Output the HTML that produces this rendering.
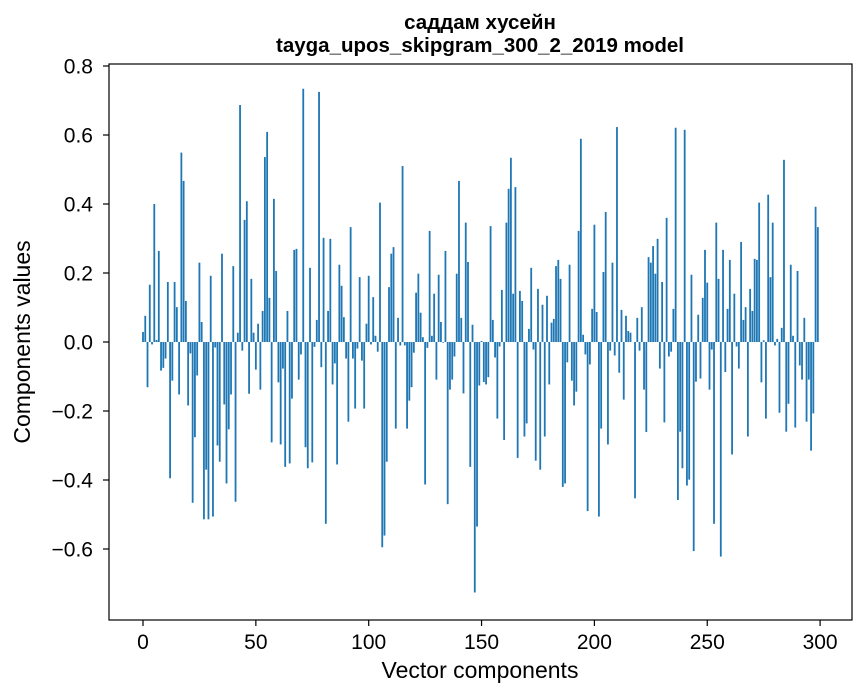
<!DOCTYPE html>
<html><head><meta charset="utf-8"><style>
body{margin:0;background:#fff;}
svg{display:block;font-family:"Liberation Sans","Noto Sans CJK SC",sans-serif;}
</style></head><body>
<svg id="chart" width="867" height="696" viewBox="0 0 867 696" xmlns="http://www.w3.org/2000/svg">
<rect width="867" height="696" fill="#fff"/>
<text x="480" y="29" text-anchor="middle" font-size="20.5" font-weight="bold">саддам хусейн</text>
<text x="480" y="52" text-anchor="middle" font-size="20.5" font-weight="bold">tayga_upos_skipgram_300_2_2019 model</text>
<g id="bars"></g>
<g id="axes"></g>
<rect x="109" y="64" width="743" height="556" fill="none" stroke="#000" stroke-width="1.2"/>
<text x="480" y="678" text-anchor="middle" font-size="23">Vector components</text>
<text transform="translate(30,342) rotate(-90)" text-anchor="middle" font-size="23">Components values</text>
</svg>
<script>
const values = [0.029,0.076,-0.131,0.166,-0.007,0.40,0.006,0.264,-0.083,-0.075,-0.048,0.174,-0.395,-0.112,0.174,0.101,-0.152,0.549,0.467,0.119,-0.184,-0.033,-0.466,-0.276,-0.097,0.23,0.058,-0.514,-0.37,-0.514,0.192,-0.506,-0.016,-0.30,-0.347,0.256,-0.181,-0.41,-0.253,-0.152,0.22,-0.463,0.027,0.687,-0.025,0.354,0.408,-0.15,0.183,0.027,-0.08,
0.053,-0.138,0.09,0.536,0.609,0.128,-0.291,0.415,0.206,-0.117,-0.297,-0.077,-0.362,0.09,-0.352,-0.164,0.267,0.27,-0.109,-0.036,0.734,-0.305,-0.366,0.215,-0.349,-0.014,0.064,0.725,-0.073,0.302,-0.527,0.09,0.299,-0.123,-0.062,-0.355,0.224,0.163,0.072,-0.048,-0.231,0.333,-0.048,-0.193,-0.019,0.188,-0.054,-0.193,0.053,0.192,
-0.007,0.13,0.018,-0.028,0.404,-0.595,-0.561,-0.347,0.159,0.256,0.275,-0.251,0.07,-0.01,0.51,-0.01,-0.251,-0.17,-0.131,-0.031,0.143,0.198,0.085,0.014,-0.413,-0.017,0.322,0.018,0.14,-0.109,0.195,0.058,-0.002,0.264,-0.47,-0.138,-0.109,-0.042,0.198,0.467,0.07,-0.149,0.346,0.232,-0.362,0.05,-0.726,-0.535,-0.126,0.003,
-0.116,-0.123,-0.102,0.336,0.064,-0.045,-0.222,-0.013,0.151,-0.284,0.346,0.444,0.534,0.14,0.449,-0.336,0.148,0.119,-0.274,-0.236,0.038,0.215,-0.022,-0.344,0.154,-0.37,0.108,-0.274,0.134,-0.123,0.056,0.067,0.22,0.238,0.183,-0.42,-0.41,-0.059,0.224,-0.112,-0.184,-0.144,0.322,0.589,0.021,-0.036,-0.49,-0.065,0.096,0.34,
0.087,-0.506,-0.251,0.203,0.377,-0.297,-0.025,0.23,-0.039,0.623,-0.089,0.093,-0.167,0.076,0.032,0.027,0.0,-0.453,0.07,-0.025,0.101,-0.138,-0.261,0.246,0.23,0.278,0.198,0.299,-0.077,0.174,-0.233,0.36,-0.042,-0.028,0.096,0.621,-0.458,-0.26,-0.366,0.615,-0.416,-0.399,0.195,-0.606,-0.115,0.079,-0.106,0.128,0.267,0.172,
-0.138,-0.022,-0.527,0.346,0.183,-0.622,0.267,-0.087,0.096,0.238,-0.326,0.14,-0.013,-0.077,0.29,0.064,0.101,-0.274,0.154,0.09,0.241,0.238,0.404,-0.117,0.005,-0.222,0.427,0.188,0.346,-0.01,0.009,-0.205,0.041,0.528,-0.26,-0.179,0.224,0.018,-0.248,0.206,-0.068,-0.109,0.07,-0.231,-0.109,-0.315,-0.207,0.392,0.333];
const xTicks = [0,50,100,150,200,250,300];
const yTicks = [-0.6,-0.4,-0.2,0.0,0.2,0.4,0.6,0.8];

const NS = "http://www.w3.org/2000/svg";
const X0 = 143, XS = 2.257;
const Y0 = 342, YS = 345;
function xScale(v){ return X0 + v * XS; }
function yScale(v){ return Y0 - v * YS; }

const barsG = document.getElementById('bars');
values.forEach((v, i) => {
  const r = document.createElementNS(NS, 'rect');
  
  
  const w = 0.8 * XS;
  const y1 = yScale(Math.max(v, 0)), y2 = yScale(Math.min(v, 0));
  r.setAttribute('x', xScale(i) - w / 2);
  r.setAttribute('y', y1);
  r.setAttribute('width', w);
  r.setAttribute('height', Math.max(y2 - y1, 0.01));
  r.setAttribute('fill', '#1f77b4');
  barsG.appendChild(r);
});

const axesG = document.getElementById('axes');
xTicks.forEach(t => {
  const x = xScale(t);
  const l = document.createElementNS(NS, 'line');
  
  
  l.setAttribute('x1', x); l.setAttribute('x2', x);
  l.setAttribute('y1', 620); l.setAttribute('y2', 626);
  l.setAttribute('stroke', '#000'); l.setAttribute('stroke-width', '1.2');
  axesG.appendChild(l);
  const tx = document.createElementNS(NS, 'text');
  
  
  tx.setAttribute('x', x); tx.setAttribute('y', 649);
  tx.setAttribute('text-anchor', 'middle'); tx.setAttribute('font-size', '21');
  tx.textContent = String(t);
  axesG.appendChild(tx);
});
yTicks.forEach(t => {
  const y = yScale(t);
  const l = document.createElementNS(NS, 'line');
  
  
  l.setAttribute('x1', 103); l.setAttribute('x2', 109);
  l.setAttribute('y1', y); l.setAttribute('y2', y);
  l.setAttribute('stroke', '#000'); l.setAttribute('stroke-width', '1.2');
  axesG.appendChild(l);
  const tx = document.createElementNS(NS, 'text');
  
  
  tx.setAttribute('x', 93); tx.setAttribute('y', y + 7.5);
  tx.setAttribute('text-anchor', 'end'); tx.setAttribute('font-size', '21');
  tx.textContent = (t < 0 ? '\u2212' : '') + Math.abs(t).toFixed(1);
  axesG.appendChild(tx);
});
</script>
</body></html>
